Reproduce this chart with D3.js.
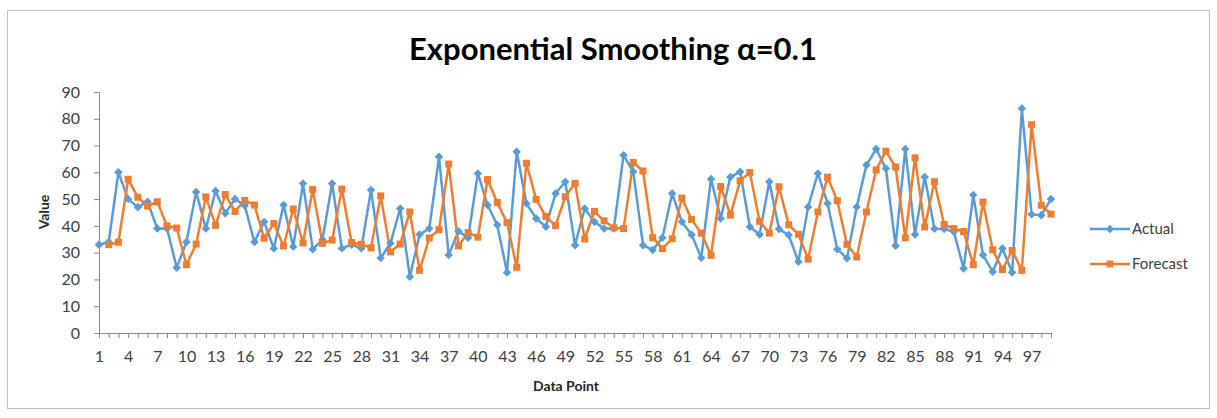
<!DOCTYPE html>
<html><head><meta charset="utf-8">
<script src="https://cdn.jsdelivr.net/npm/d3@7"></script>
<style>body{margin:0;background:#fff}svg{display:block}</style>
</head><body>
<script>
const categories = d3.range(1, 100);
const actual = [33,34,60,50,47,49,39,39,24.4,34,52.7,39,53,44.7,50,47.6,34,41.5,31.6,47.8,32.2,55.8,31.3,34.8,55.8,31.6,33,31.6,53.4,28,33.5,46.5,21,36.8,39,65.8,29.1,38,35.6,59.6,47.8,40.3,22.6,67.7,48.4,42.8,39.7,52.1,56.5,32.8,46.5,41.5,39,39,66.4,60.2,32.8,31,35.6,52.1,41.5,36.7,28.1,57.5,42.8,58.3,60.2,39.7,36.8,56.5,38.8,36.6,26.6,47.1,59.6,48.4,31.3,27.9,47.1,62.7,68.7,61.4,32.6,68.7,36.8,58.3,38.9,38.8,37.8,24.1,51.5,29.1,22.9,31.6,22.6,83.8,44.3,44,50];
const forecast = [null,33,33.9,57.4,50.7,47.4,49,40,39.2,25.5,33.2,50.8,40.2,51.7,45.4,49.5,47.8,35.4,40.9,32.5,46.3,33.6,53.6,33.5,34.7,53.7,33.8,33.1,31.8,51.2,30.3,33.2,45.2,23.4,35.5,38.6,63.1,32.5,37.5,35.8,57.3,48.7,41.2,24.5,63.4,49.9,43.5,40.1,50.9,55.9,35.1,45.4,41.9,39.3,39,63.7,60.5,35.6,31.5,35.2,50.4,42.4,37.3,29,54.7,44,56.9,59.9,41.7,37.3,54.6,40.4,36.9,27.6,45.2,58.2,49.4,33.1,28.4,45.2,60.9,67.9,62,35.5,65.4,39.6,56.5,40.5,39,37.9,25.5,48.9,31.1,23.7,30.8,23.4,77.8,47.7,44.4];
const yTicks = [0,10,20,30,40,50,60,70,80,90];
const xTickLabels = d3.range(1, 100, 3);
const title = "Exponential Smoothing \u03b1=0.1";

const W = 1217, H = 418;
const svg = d3.select("body").append("svg").attr("width", W).attr("height", H);
svg.append("rect").attr("x", 7.5).attr("y", 10.5).attr("width", 1202).attr("height", 398)
  .attr("fill", "#fff").attr("stroke", "#bfbfbf").attr("stroke-width", 1);

const x = d3.scaleLinear().domain([1, 99]).range([99, 1051]);
const y = d3.scaleLinear().domain([0, 90]).range([333, 92]);
const font = "Lato, 'Open Sans', sans-serif";

svg.append("text").attr("x", 613).attr("y", 60).attr("text-anchor", "middle")
  .attr("font-family", font).attr("font-weight", "bold").attr("font-size", 31)
  .attr("fill", "#000").text(title);

// y axis
const yAxis = d3.axisLeft(y).tickValues(yTicks).tickSize(5).tickPadding(14);
const gy = svg.append("g").attr("transform", "translate(99,0)").call(yAxis);
gy.select(".domain").attr("stroke", "#868686").attr("d", "M-5,92.5H0.5V333.5");
gy.selectAll(".tick line").attr("stroke", "#868686");
gy.selectAll(".tick text").attr("font-family", font).attr("font-size", 16).attr("fill", "#404040");

// x axis
const xAxis = d3.axisBottom(x).tickValues(categories).tickSize(5).tickPadding(13)
  .tickFormat(d => xTickLabels.includes(d) ? d : "");
const gx = svg.append("g").attr("transform", "translate(0,333)").call(xAxis);
gx.select(".domain").attr("stroke", "#868686").attr("d", "M99,0.5H1051");
gx.selectAll(".tick line").attr("stroke", "#868686");
gx.selectAll(".tick text").attr("font-family", font).attr("font-size", 16).attr("fill", "#404040");

svg.append("text").attr("transform", "translate(49,212) rotate(-90)").attr("text-anchor", "middle")
  .attr("font-family", font).attr("font-weight", "bold").attr("font-size", 14).attr("fill", "#262626").text("Value");
svg.append("text").attr("x", 566).attr("y", 391).attr("text-anchor", "middle")
  .attr("font-family", font).attr("font-weight", "bold").attr("font-size", 14).attr("fill", "#262626").text("Data Point");

const blue = "#5B9BD5", orange = "#ED7D31";
const line = d3.line().defined(d => d.v != null).x(d => x(d.i)).y(d => y(d.v));
const aData = actual.map((v, k) => ({i: categories[k], v}));
const fData = forecast.map((v, k) => ({i: categories[k], v}));

svg.append("path").datum(aData).attr("d", line).attr("fill", "none").attr("stroke", blue).attr("stroke-width", 2.5).attr("stroke-linejoin", "round");
svg.append("path").datum(fData).attr("d", line).attr("fill", "none").attr("stroke", orange).attr("stroke-width", 2.5).attr("stroke-linejoin", "round");

svg.append("g").selectAll("path").data(aData).join("path")
  .attr("transform", d => `translate(${x(d.i)},${y(d.v)}) rotate(45)`)
  .attr("d", d3.symbol().type(d3.symbolSquare).size(36)).attr("fill", blue);
svg.append("g").selectAll("rect").data(fData.filter(d => d.v != null)).join("rect")
  .attr("x", d => x(d.i) - 3.5).attr("y", d => y(d.v) - 3.5).attr("width", 7).attr("height", 7).attr("fill", orange);

// legend
const leg = [{name: "Actual", c: blue, t: "d", yy: 229}, {name: "Forecast", c: orange, t: "s", yy: 264}];
leg.forEach(l => {
  svg.append("line").attr("x1", 1090).attr("x2", 1130).attr("y1", l.yy).attr("y2", l.yy).attr("stroke", l.c).attr("stroke-width", 2.5);
  if (l.t === "d") svg.append("path").attr("transform", `translate(1110,${l.yy}) rotate(45)`).attr("d", d3.symbol().type(d3.symbolSquare).size(36)).attr("fill", l.c);
  else svg.append("rect").attr("x", 1106.5).attr("y", l.yy - 3.5).attr("width", 7).attr("height", 7).attr("fill", l.c);
  svg.append("text").attr("x", 1132).attr("y", l.yy + 5).attr("font-family", font).attr("font-size", 15).attr("fill", "#404040").text(l.name);
});
</script>
</body></html>
